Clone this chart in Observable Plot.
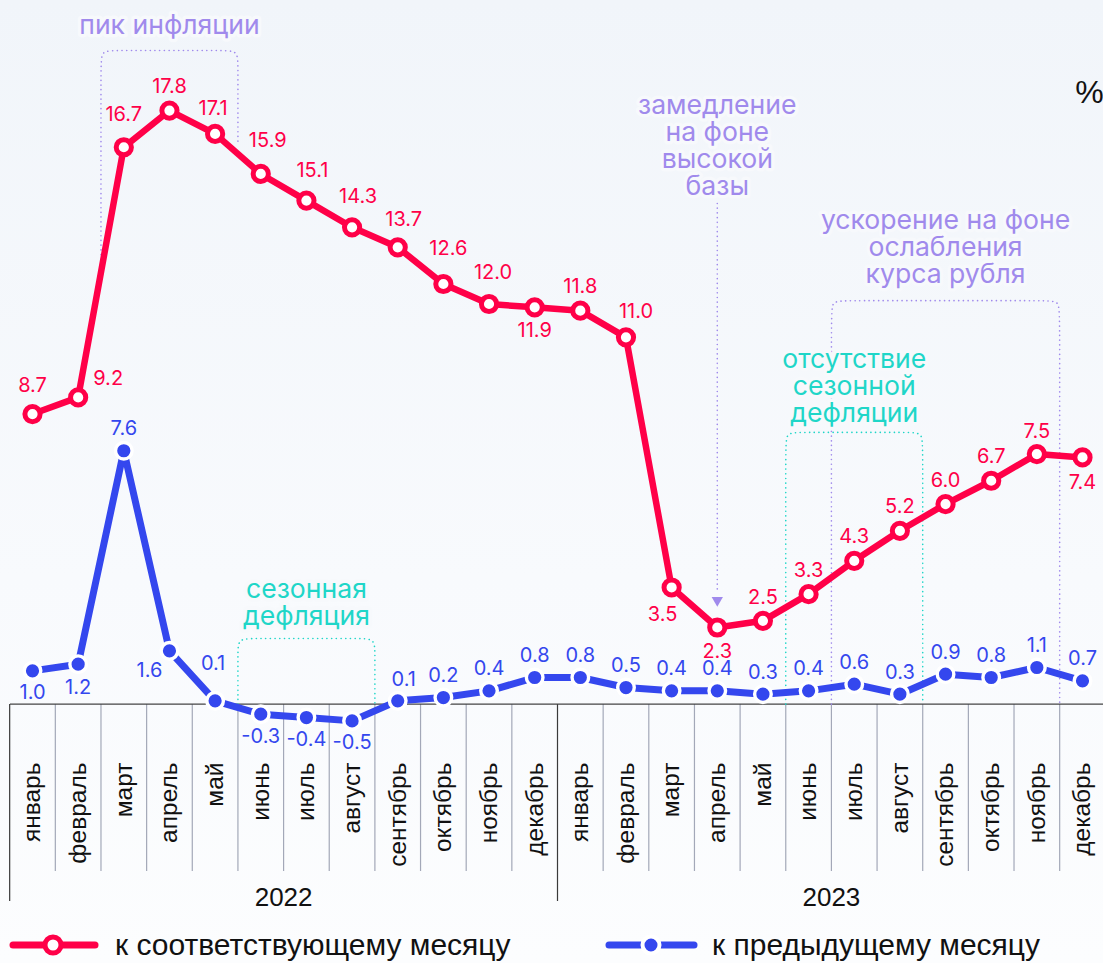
<!DOCTYPE html>
<html><head><meta charset="utf-8">
<script src="https://cdn.jsdelivr.net/npm/d3@7"></script>
<script src="https://cdn.jsdelivr.net/npm/@observablehq/plot@0.6"></script>
<style>
html,body{margin:0;padding:0;}
body{width:1103px;height:963px;overflow:hidden;background:linear-gradient(#f1f5fa, #f8fafd 60%, #fcfdfe);}
#chart svg,#legend svg{display:block}
</style></head><body><div id="chart"></div><div id="legend"></div>
<script>
// ---- data ----
const monthNames = ["январь","февраль","март","апрель","май","июнь","июль","август","сентябрь","октябрь","ноябрь","декабрь"];
const years = ["2022","2023"];
const yoy = [8.7,9.2,16.7,17.8,17.1,15.9,15.1,14.3,13.7,12.6,12.0,11.9,11.8,11.0,3.5,2.3,2.5,3.3,4.3,5.2,6.0,6.7,7.5,7.4];
const mom = [1.0,1.2,7.6,1.6,0.1,-0.3,-0.4,-0.5,0.1,0.2,0.4,0.8,0.8,0.5,0.4,0.4,0.3,0.4,0.6,0.3,0.9,0.8,1.1,0.7];
const seriesNames = ["к соответствующему месяцу","к предыдущему месяцу"];
const noteTexts = ["пик инфляции","замедление\nна фоне\nвысокой\nбазы","ускорение на фоне\nослабления\nкурса рубля","отсутствие\nсезонной\nдефляции","сезонная\nдефляция"];

// ---- styles ----
const RED = "#ff0048", BLUE = "#3447ee", PURPLE = "#a08aec", TEAL = "#1fd6c8", BG = "#f7f9fc";
const LABEL_FONT = "Inter, 'Noto Sans', sans-serif";
const AXIS_FONT = "'Liberation Sans', Arial, sans-serif";

const rows = yoy.map((v, i) => ({i, month: monthNames[i % 12], year: years[Math.floor(i / 12)], yoy: v, mom: mom[i]}));
const fmt = v => v.toFixed(1);

// label placements (dx, dy in px)
const redPlace = {
  0:[0,-28], 1:[30,-19], 2:[0,-33], 3:[0,-24], 4:[-2,-25],
  5:[7,-33], 6:[6,-30], 7:[6,-31], 8:[6,-28], 9:[5,-35], 10:[4,-31],
  11:[0,23], 12:[0,-24], 13:[10,-26], 14:[-9,27], 15:[0,24],
  16:[0,-23], 17:[0,-24], 18:[0,-24], 19:[0,-24], 20:[0,-24], 21:[0,-24], 22:[0,-22], 23:[0,25]
};
const bluePlace = {
  0:[0,22], 1:[0,23], 2:[0,-22], 3:[-20,20], 4:[-2,-37], 5:[0,22], 6:[0,22], 7:[0,22], 8:[6,-21]
};
const bp = i => bluePlace[i] || [0,-22];

// annotations (positions in chart units)
const notes = [
  {t: noteTexts[0], x: 3, y: 20.35, c: PURPLE},
  {t: noteTexts[1], x: 15, y: 16.74, c: PURPLE},
  {t: noteTexts[2], x: 20, y: 13.69, c: PURPLE},
  {t: noteTexts[3], x: 18, y: 9.54, c: TEAL},
  {t: noteTexts[4], x: 6, y: 3.05, c: TEAL}
];
const boxes = [
  {x1: 1.5, x2: 4.5, top: 19.6, bl: 13.2, br: 16.75, c: PURPLE},
  {x1: 17.5, x2: 22.5, top: 12.1, bl: 0, br: 0, c: PURPLE},
  {x1: 16.5, x2: 19.5, top: 8.15, bl: 0, br: 0, c: TEAL},
  {x1: 4.5, x2: 7.5, top: 1.97, bl: 0, br: 0, c: TEAL}
];
const rx = 0.35, ry = 0.45;
const boxPts = boxes.flatMap((b, k) => [
  [b.x1, b.bl], [b.x1, b.top - ry], [b.x1, b.top], [b.x1 + rx, b.top],
  [b.x2 - rx, b.top], [b.x2, b.top], [b.x2, b.top - ry], [b.x2, b.br]
].map(([x, y]) => ({k, x, y, c: b.c})));

const seps = d3.range(-0.5, 24, 1);
const yearSeps = [-0.5, 11.5, 23.5];

const chart = Plot.plot({
  width: 1103, height: 920,
  marginLeft: 10, marginRight: 0, marginTop: 0, marginBottom: 216,
  style: {background: "transparent", fontFamily: LABEL_FONT},
  x: {type: "linear", domain: [0, 23], range: [32, 1082], axis: null},
  y: {type: "linear", domain: [0, 18], range: [703.7, 703.7 - 18 * 33.35], axis: null},
  marks: [
    // separators under the axis
    Plot.axisX({ticks: seps.filter(s => !yearSeps.includes(s)), tickSize: 167, tickFormat: () => "", stroke: "#a3a8b8", strokeWidth: 1.2}),
    Plot.axisX({ticks: yearSeps, tickSize: 197, tickFormat: () => "", stroke: "#3a3a3a", strokeWidth: 1.2}),
    Plot.axisX({ticks: d3.range(24), tickSize: 0, tickRotate: -90, tickPadding: 58, textAnchor: "end",
      tickFormat: i => rows[i].month, fontSize: 24.5, fontFamily: AXIS_FONT, fill: "#111"}),
    Plot.axisX({ticks: [5.5, 17.5], tickSize: 0, tickPadding: 193, lineAnchor: "middle",
      tickFormat: t => years[Math.floor(t / 12)], fontSize: 26, fontFamily: AXIS_FONT, fill: "#111"}),
    Plot.ruleY([0], {stroke: "#444", strokeWidth: 1.2}),
    // annotation boxes & arrow
    Plot.line(boxPts, {x: "x", y: "y", z: "k", stroke: "c", curve: "basis", strokeWidth: 1.6, strokeDasharray: "0.1,4.6", strokeLinecap: "round"}),
    Plot.ruleX([15], {y1: 15.0, y2: 3.35, stroke: PURPLE, strokeWidth: 1.6, strokeDasharray: "0.1,4.6", strokeLinecap: "round"}),
    Plot.dot([15], {x: d => d, y: 3.12, symbol: "triangle", r: 4.2, fill: PURPLE, rotate: 180}),
    Plot.text(notes, {x: "x", y: "y", text: "t", fill: "c", fontSize: 26.6, lineHeight: 1.02, fontFamily: LABEL_FONT,
      stroke: BG, strokeWidth: 7, paintOrder: "stroke"}),
    Plot.text(["%"], {x: 23.15, y: 18.34, text: d => d, fontSize: 32, fill: "#111", fontFamily: AXIS_FONT}),
    // lines
    Plot.line(rows, {x: "i", y: "mom", stroke: BLUE, strokeWidth: 7}),
    Plot.line(rows, {x: "i", y: "yoy", stroke: RED, strokeWidth: 6.5}),
    Plot.dot(rows, {x: "i", y: "mom", r: 8.3, fill: BLUE, stroke: "white", strokeWidth: 3.4}),
    Plot.dot(rows, {x: "i", y: "yoy", r: 7.6, fill: "white", stroke: RED, strokeWidth: 5}),
    // value labels
    ...rows.map(d => Plot.text([d], {x: "i", y: "yoy", text: r => fmt(r.yoy), fill: RED, fontSize: 20,
      dx: redPlace[d.i][0], dy: redPlace[d.i][1]})),
    ...rows.map(d => Plot.text([d], {x: "i", y: "mom", text: r => fmt(r.mom), fill: BLUE, fontSize: 20,
      dx: bp(d.i)[0], dy: bp(d.i)[1]}))
  ]
});
document.getElementById("chart").appendChild(chart);

// ---- legend ----
const lg = d3.select("#legend").append("svg").attr("width", 1103).attr("height", 43);
const cy = 25;
const items = [
  {x0: 13, x1: 95, cx: 53, tx: 115, c: RED, name: seriesNames[0], hollow: true},
  {x0: 609, x1: 694, cx: 651, tx: 712, c: BLUE, name: seriesNames[1], hollow: false}
];
for (const it of items) {
  lg.append("line").attr("x1", it.x0).attr("x2", it.x1).attr("y1", cy).attr("y2", cy)
    .attr("stroke", it.c).attr("stroke-width", 7).attr("stroke-linecap", "round");
  if (it.hollow) {
    lg.append("circle").attr("cx", it.cx).attr("cy", cy).attr("r", 8).attr("fill", "white").attr("stroke", it.c).attr("stroke-width", 5);
  } else {
    lg.append("circle").attr("cx", it.cx).attr("cy", cy).attr("r", 8.5).attr("fill", it.c).attr("stroke", "white").attr("stroke-width", 4);
  }
  lg.append("text").attr("x", it.tx).attr("y", cy).attr("dy", "0.33em").attr("fill", "#111")
    .attr("font-family", AXIS_FONT).attr("font-size", 30).text(it.name);
}
</script></body></html>
